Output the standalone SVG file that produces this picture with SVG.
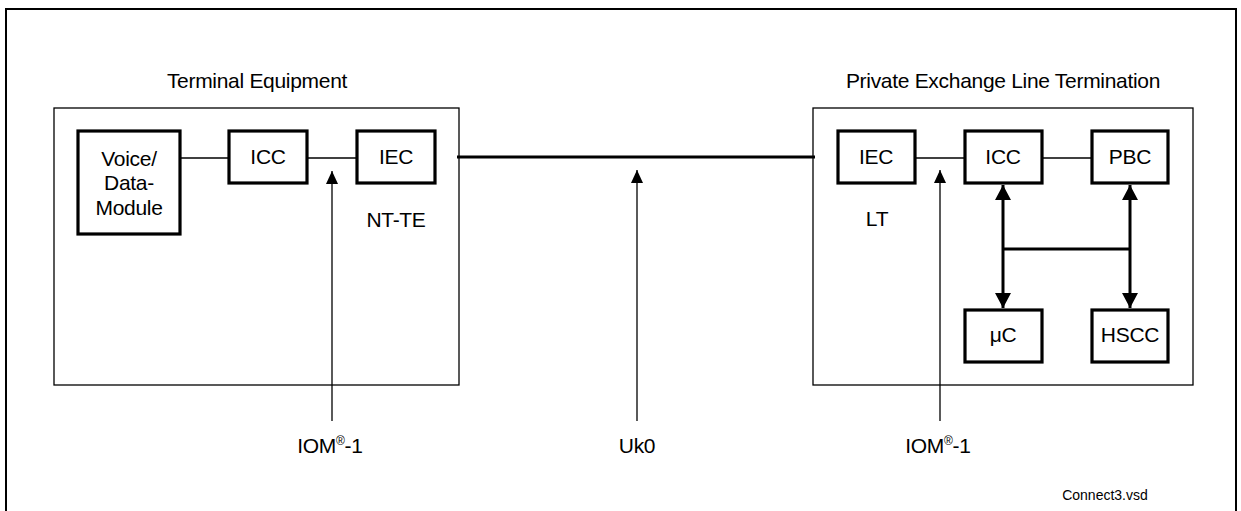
<svg xmlns="http://www.w3.org/2000/svg" width="1241" height="511" viewBox="0 0 1241 511">
<style>
text{font-family:"Liberation Sans",Arial,sans-serif;font-size:21px;fill:#000;text-anchor:middle;letter-spacing:-0.3px}
.small{font-size:14px;letter-spacing:0}
.cont{fill:none;stroke:#000;stroke-width:1.3}
.box{fill:#fff;stroke:#000;stroke-width:3.2}
.thin{stroke:#000;stroke-width:1.3;fill:none}
.bus{stroke:#000;stroke-width:3;fill:none}
</style>
<defs>
<marker id="ah" markerUnits="userSpaceOnUse" markerWidth="13" markerHeight="12" viewBox="0 0 13 12" refX="13" refY="6" orient="auto-start-reverse">
<path d="M0,0 L13,6 L0,12 Z" fill="#000"/>
</marker>
<marker id="bh" markerUnits="userSpaceOnUse" markerWidth="15" markerHeight="16" viewBox="0 0 15 16" refX="15" refY="8" orient="auto-start-reverse">
<path d="M0,0 L15,8 L0,16 Z" fill="#000"/>
</marker>
</defs>
<rect width="1241" height="511" fill="#fff"/>
<path d="M6,520 V9 H1236 V520" fill="none" stroke="#000" stroke-width="2"/>

<g id="te">
<rect class="cont" x="54" y="108" width="405" height="277"/>
<text x="257" y="88">Terminal Equipment</text>
<text x="396" y="227">NT-TE</text>
</g>
<g id="plt">
<rect class="cont" x="813" y="108" width="380" height="277"/>
<text x="1003" y="88">Private Exchange Line Termination</text>
<text x="877" y="226">LT</text>
</g>

<g id="connectors">
<line class="thin" x1="180" y1="158" x2="229" y2="158"/>
<line class="thin" x1="307" y1="158" x2="357" y2="158"/>
<line class="bus" x1="457" y1="157" x2="815" y2="157"/>
<line class="thin" x1="915" y1="158" x2="965" y2="158"/>
<line class="thin" x1="1042" y1="158" x2="1092" y2="158"/>
<line class="thin" x1="332" y1="421" x2="332" y2="171" marker-end="url(#ah)"/>
<line class="thin" x1="637" y1="421" x2="637" y2="170" marker-end="url(#ah)"/>
<line class="thin" x1="940" y1="421" x2="940" y2="170" marker-end="url(#ah)"/>
<line class="bus" x1="1003" y1="185" x2="1003" y2="308" marker-start="url(#bh)" marker-end="url(#bh)"/>
<line class="bus" x1="1130" y1="185" x2="1130" y2="308" marker-start="url(#bh)" marker-end="url(#bh)"/>
<line class="bus" x1="1003" y1="249" x2="1130" y2="249" stroke-width="2.5"/>
</g>

<g id="voice"><rect class="box" x="78" y="131" width="102" height="103"/>
<text x="129" y="166">Voice/</text><text x="129" y="190">Data-</text><text x="129" y="215">Module</text></g>
<g id="icc-te"><rect class="box" x="229" y="131" width="78" height="52"/><text x="268" y="164">ICC</text></g>
<g id="iec-te"><rect class="box" x="357" y="131" width="78" height="52"/><text x="396" y="164">IEC</text></g>
<g id="iec-lt"><rect class="box" x="838" y="131" width="77" height="52"/><text x="876" y="164">IEC</text></g>
<g id="icc-lt"><rect class="box" x="965" y="131" width="77" height="52"/><text x="1003" y="164">ICC</text></g>
<g id="pbc"><rect class="box" x="1092" y="131" width="76" height="52"/><text x="1130" y="164">PBC</text></g>
<g id="uc"><rect class="box" x="965" y="310" width="77" height="52"/><text x="1003" y="342">μC</text></g>
<g id="hscc"><rect class="box" x="1092" y="310" width="76" height="52"/><text x="1130" y="342">HSCC</text></g>

<g id="labels">
<text x="330" y="453">IOM<tspan font-size="12" dy="-8">®</tspan><tspan dy="8">-1</tspan></text>
<text x="637" y="453">Uk0</text>
<text x="938" y="453">IOM<tspan font-size="12" dy="-8">®</tspan><tspan dy="8">-1</tspan></text>
<text class="small" x="1105" y="500">Connect3.vsd</text>
</g>
</svg>
